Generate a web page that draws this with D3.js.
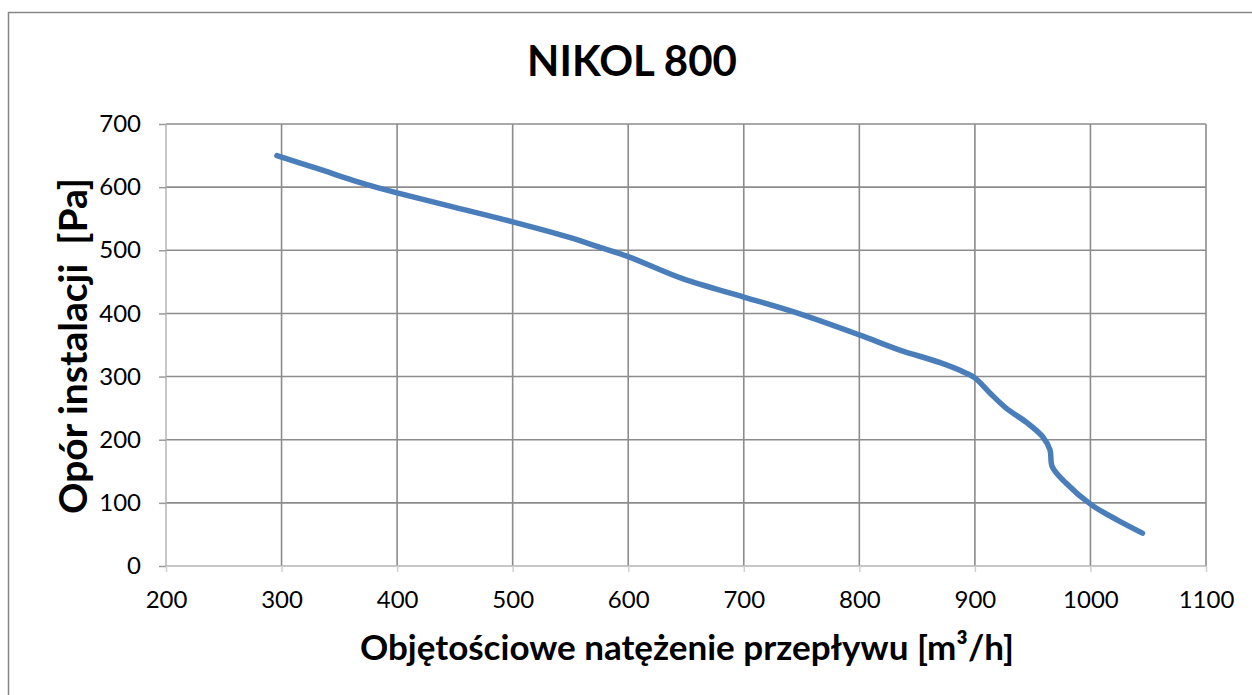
<!DOCTYPE html>
<html>
<head>
<meta charset="utf-8">
<script src="https://cdn.jsdelivr.net/npm/d3@7"></script>
<style>
	body { margin: 0; background: #fff; }
	svg { display: block; font-family: Lato, "Open Sans", sans-serif; }
</style>
</head>
<body>
<div id="chart"></div>
<script>
// flow [m3/h] vs. installation resistance [Pa]
var flow = [296, 330, 374, 400, 450, 500, 550, 575, 600, 647, 700, 744, 800, 835, 870, 893, 900, 913, 927, 945, 959, 965, 967, 979, 1000, 1023, 1045];
var pressure = [650, 630, 604, 591, 568, 545, 520, 505, 490, 455, 426, 402, 366, 342, 322, 305, 298, 274, 250, 227, 204, 184, 157, 131, 98, 73, 52];
var xTicks = [200, 300, 400, 500, 600, 700, 800, 900, 1000, 1100];
var yTicks = [0, 100, 200, 300, 400, 500, 600, 700];

var chartTitle = "NIKOL 800";
var xTitle = "Objętościowe natężenie przepływu [m³/h]";
var yTitle = "Opór instalacji  [Pa]";

var W = 1252, H = 695;
var margin = { top: 124, right: 46, bottom: 129, left: 166 };
var width = W - margin.left - margin.right;
var height = H - margin.top - margin.bottom;

var root = d3.select("#chart").append("svg")
	.attr("width", W)
	.attr("height", H);

var defs = root.append("defs");
var shadow = defs.append("filter")
	.attr("id", "axis-shadow")
	.attr("x", "-50%").attr("y", "-50%")
	.attr("width", "200%").attr("height", "200%");
shadow.append("feGaussianBlur").attr("stdDeviation", 1.6);

// outer chart frame (runs off the right / bottom edge in the reference)
root.append("rect")
	.attr("x", 8.5).attr("y", 12.5)
	.attr("width", W + 20).attr("height", H + 20)
	.attr("fill", "none")
	.attr("stroke", "#868686")
	.attr("stroke-width", 1.5);

root.append("text")
	.attr("x", 632)
	.attr("y", 76)
	.attr("text-anchor", "middle")
	.attr("font-size", 42)
	.attr("font-weight", "bold")
	.text(chartTitle);

var svg = root.append("g")
	.attr("transform", "translate(" + margin.left + "," + margin.top + ")");

var x = d3.scaleLinear().domain([200, 1100]).range([0, width]);
var y = d3.scaleLinear().domain([0, 700]).range([height, 0]);

// grid
svg.append("g")
	.selectAll("line.vgrid")
	.data(xTicks.slice(1))
	.enter().append("line")
		.attr("x1", function(d) { return x(d); })
		.attr("x2", function(d) { return x(d); })
		.attr("y1", 0).attr("y2", height)
		.attr("stroke", "#8c8c8c")
		.attr("stroke-width", 1.6);

svg.append("g")
	.selectAll("line.hgrid")
	.data(yTicks.slice(1))
	.enter().append("line")
		.attr("x1", 0).attr("x2", width)
		.attr("y1", function(d) { return y(d); })
		.attr("y2", function(d) { return y(d); })
		.attr("stroke", "#8c8c8c")
		.attr("stroke-width", 1.6);

// axis lines with soft grey shadow
svg.append("line")
	.attr("x1", -2).attr("x2", -2).attr("y1", 2).attr("y2", height + 4)
	.attr("stroke", "#9a9a9a").attr("stroke-width", 4)
	.attr("filter", "url(#axis-shadow)");
svg.append("line")
	.attr("x1", -2).attr("x2", width - 4).attr("y1", height + 3).attr("y2", height + 3)
	.attr("stroke", "#9a9a9a").attr("stroke-width", 4)
	.attr("filter", "url(#axis-shadow)");
svg.append("line")
	.attr("x1", 0).attr("x2", 0).attr("y1", 0).attr("y2", height)
	.attr("stroke", "#b5b5b5").attr("stroke-width", 1.5);
svg.append("line")
	.attr("x1", 0).attr("x2", width).attr("y1", height).attr("y2", height)
	.attr("stroke", "#b5b5b5").attr("stroke-width", 1.5);

var yAxis = svg.append("g")
	.call(d3.axisLeft(y).tickValues(yTicks).tickSize(7).tickPadding(18).tickFormat(d3.format("d")));
var xAxis = svg.append("g")
	.attr("transform", "translate(0," + height + ")")
	.call(d3.axisBottom(x).tickValues(xTicks).tickSize(6).tickPadding(19).tickFormat(d3.format("d")));

[yAxis, xAxis].forEach(function(a) {
	a.select(".domain").remove();
	a.selectAll(".tick line").attr("stroke", "#9a9a9a").attr("stroke-width", 1.5);
	a.selectAll(".tick text")
		.attr("fill", "#000")
		.attr("font-size", 24)
		.attr("font-family", "Lato, 'Open Sans', sans-serif");
});
xAxis.selectAll(".tick line").attr("stroke", "#d0d0d0");

// resistance curve
var pts = flow.map(function(f, i) { return [f, pressure[i]]; });
var line = d3.line()
	.x(function(d) { return x(d[0]); })
	.y(function(d) { return y(d[1]); })
	.curve(d3.curveCatmullRom.alpha(0.5));

svg.append("path")
	.datum(pts)
	.attr("d", line)
	.attr("fill", "none")
	.attr("stroke", "#4a7ebb")
	.attr("stroke-width", 5.5)
	.attr("stroke-linecap", "round")
	.attr("stroke-linejoin", "round");

// axis titles
root.append("text")
	.attr("x", 687)
	.attr("y", 660)
	.attr("text-anchor", "middle")
	.attr("font-size", 35)
	.attr("font-weight", "bold")
	.text(xTitle);

root.append("text")
	.attr("transform", "translate(87,346) rotate(-90)")
	.attr("text-anchor", "middle")
	.attr("font-size", 39)
	.attr("font-weight", "bold")
	.attr("xml:space", "preserve")
	.style("white-space", "pre")
	.text(yTitle);
</script>
</body>
</html>
